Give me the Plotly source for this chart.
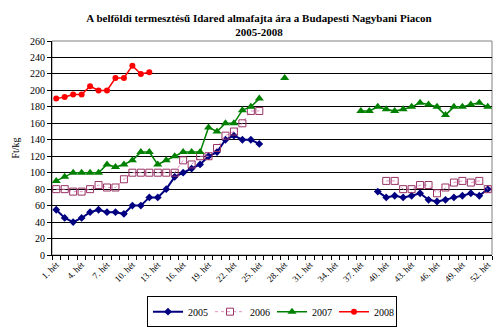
import plotly.graph_objects as go

weeks = list(range(1, 53))
tick_weeks = list(range(1, 53, 3))
tick_labels = [f"{w}. hét" for w in tick_weeks]

N = None
# 2005: weeks 1-25, then 39-52
y2005_a = [55, 45, 40, 45, 52, 55, 52, 52, 50, 60, 60, 70, 70, 80, 95, 100, 105, 110, 120, 125, 140, 145, 140, 140, 135]
y2005_b = [77, 70, 72, 70, 72, 75, 67, 65, 67, 70, 72, 75, 72, 80]
# 2006: weeks 1-25, then 40-52
y2006_a = [80, 80, 77, 77, 80, 85, 82, 82, 92, 100, 100, 100, 100, 100, 100, 115, 110, 120, 120, 130, 145, 150, 160, 175, 175]
y2006_b = [90, 90, 80, 80, 85, 85, 75, 82, 88, 90, 88, 90, 80]
# 2007: weeks 1-25, week 28, weeks 37-52
y2007_a = [90, 95, 100, 100, 100, 100, 110, 107, 110, 115, 125, 125, 110, 115, 120, 125, 125, 125, 155, 150, 160, 160, 176, 180, 190]
y2007_c = [215]
y2007_b = [175, 175, 180, 177, 175, 177, 180, 185, 183, 180, 170, 180, 180, 183, 185, 180]
# 2008: weeks 1-12
y2008_a = [190, 192, 195, 195, 205, 200, 200, 215, 215, 230, 220, 222]

def full(parts):
    out = [N] * 52
    for start, vals in parts:
        for i, v in enumerate(vals):
            out[start - 1 + i] = v
    return out

s2005 = full([(1, y2005_a), (39, y2005_b)])
s2006 = full([(1, y2006_a), (40, y2006_b)])
s2007 = full([(1, y2007_a), (28, y2007_c), (37, y2007_b)])
s2008 = full([(1, y2008_a)])

serif = "Liberation Serif, Times New Roman, serif"

fig = go.Figure()
fig.add_trace(go.Scatter(x=weeks, y=s2005, name="2005", mode="lines+markers",
                         line=dict(color="#000080", width=2),
                         marker=dict(symbol="diamond", size=6, color="#000080")))
fig.add_trace(go.Scatter(x=weeks, y=s2006, name="2006", mode="lines+markers",
                         line=dict(color="#E38FC4", width=1, dash="dot"),
                         marker=dict(symbol="square-open", size=7, color="#993366", line=dict(width=1))))
fig.add_trace(go.Scatter(x=weeks, y=s2007, name="2007", mode="lines+markers",
                         line=dict(color="#008000", width=1.5),
                         marker=dict(symbol="triangle-up", size=8, color="#008000")))
fig.add_trace(go.Scatter(x=weeks, y=s2008, name="2008", mode="lines+markers",
                         line=dict(color="#FF0000", width=1.5),
                         marker=dict(symbol="circle", size=6, color="#FF0000")))

fig.update_layout(
    width=500, height=328,
    margin=dict(l=52, r=8, t=41, b=73),
    paper_bgcolor="white", plot_bgcolor="white",
    font=dict(family=serif, size=10, color="black"),
    title=dict(text="<b>A belföldi termesztésű Idared almafajta ára a Budapesti Nagybani Piacon<br>2005-2008</b>",
               x=0.518, xanchor="center", yref="container", y=0.934, yanchor="middle",
               font=dict(family=serif, size=11, color="black")),
    showlegend=True,
    legend=dict(orientation="h", x=0.5, xanchor="center", yref="container", y=0.097, yanchor="top",
                bordercolor="black", borderwidth=1, bgcolor="white",
                font=dict(family=serif, size=10), itemwidth=30, tracegroupgap=0,
                entrywidth=17, entrywidthmode="pixels"),
    xaxis=dict(range=[0.5, 52.5], tickmode="array", tickvals=tick_weeks, ticktext=tick_labels,
               tickangle=-45, ticks="", showgrid=False, zeroline=False,
               showline=True, linecolor="black", linewidth=1,
               tickfont=dict(family=serif, size=9),
               minor=dict(tickmode="linear", tick0=0.5, dtick=1, ticks="outside", ticklen=4,
                          tickcolor="black", showgrid=False)),
    yaxis=dict(range=[0, 260], dtick=20, tick0=0, showgrid=True, gridcolor="black", gridwidth=1,
               zeroline=False, showline=True, linecolor="black", linewidth=1,
               ticks="outside", ticklen=4, tickcolor="black",
               title=dict(text="Ft/kg", font=dict(family=serif, size=10), standoff=8),
               tickfont=dict(family=serif, size=10)),
    shapes=[dict(type="rect", xref="paper", yref="paper", x0=0, x1=1, y0=0, y1=1,
                 line=dict(color="#808080", width=1), layer="below")],
)

fig.write_html("out.html")
